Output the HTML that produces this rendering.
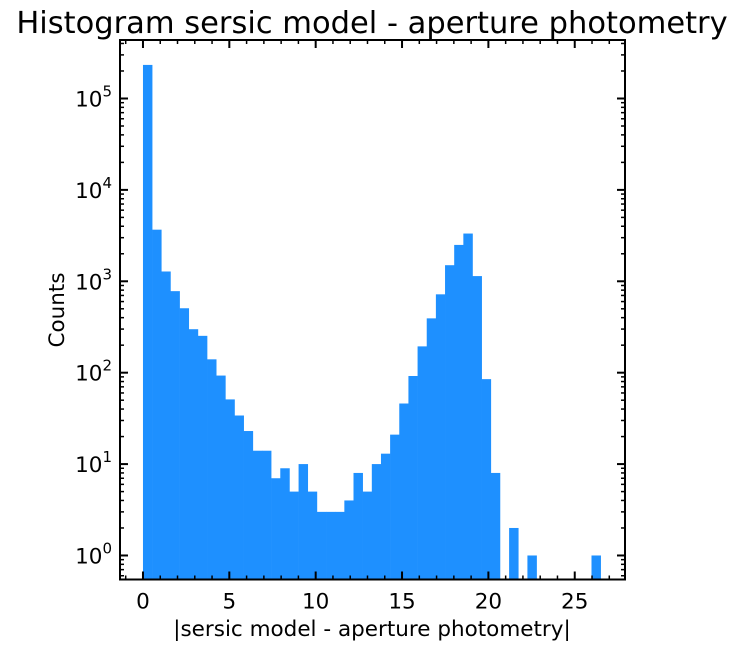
<!DOCTYPE html>
<html><head><meta charset="utf-8"><style>
body{margin:0;background:#fff;}
svg text{font-family:"DejaVu Sans","Liberation Sans",sans-serif;fill:#000;}
</style></head><body>
<svg id="chart" width="743" height="645" xmlns="http://www.w3.org/2000/svg">
<text x="372" y="33" font-size="30.5" text-anchor="middle">Histogram sersic model - aperture photometry</text>
<text x="372" y="636" font-size="21.5" text-anchor="middle">|sersic model - aperture photometry|</text>
<text transform="translate(64,310) rotate(-90)" font-size="21.5" text-anchor="middle">Counts</text>
<g id="bars"></g>
<g id="ticks"></g>
<rect x="120" y="40" width="505" height="539.5" fill="none" stroke="#000" stroke-width="2"/>
</svg>
<script>
const binWidth = 0.53;
const counts = [233000,3670,1280,780,507,299,253,140,93,51,34,23,14,14,7,9,5,10,5,3,3,3,4,8,5,10,13,21,46,92,194,393,720,1500,2500,3330,1140,85,8,0,2,0,1,0,0,0,0,0,0,1];
const xTicks = [0,5,10,15,20,25];
const yTickExps = [0,1,2,3,4,5];
const L=120,R=625,T=40,B=579.5;
const xmin=-1.33,xmax=27.91;
const ymin=Math.log10(0.546),ymax=5.64;
const X=v=>L+(v-xmin)/(xmax-xmin)*(R-L);
const Y=v=>B-(Math.log10(v)-ymin)/(ymax-ymin)*(B-T);
const NS='http://www.w3.org/2000/svg';
const bars=document.getElementById('bars');
counts.forEach((c,i)=>{
  if(c<=0)return;
  const r=document.createElementNS(NS,'rect');
  const x0=X(i*binWidth),x1=X((i+1)*binWidth),y=Y(c);
  r.setAttribute('x',x0);r.setAttribute('width',x1-x0+0.3);
  r.setAttribute('y',y);r.setAttribute('height',B-y);
  r.setAttribute('fill','#1e90ff');
  
  
  bars.appendChild(r);
});
const tk=document.getElementById('ticks');
function line(x1,y1,x2,y2,w){const l=document.createElementNS(NS,'line');l.setAttribute('x1',x1);l.setAttribute('y1',y1);l.setAttribute('x2',x2);l.setAttribute('y2',y2);l.setAttribute('stroke','#000');l.setAttribute('stroke-width',w);tk.appendChild(l);}
for(let v=-1;v<=27;v++){
  const x=X(v);const major=v%5===0;const len=major?8:4;
  line(x,B,x,B-len,major?2:1.5);line(x,T,x,T+len,major?2:1.5);
}
xTicks.forEach(v=>{
  const t=document.createElementNS(NS,'text');
  t.setAttribute('x',X(v));t.setAttribute('y',B+29);t.setAttribute('font-size','21.5');t.setAttribute('text-anchor','middle');
  t.textContent=v;
  
  
  tk.appendChild(t);
});
for(let e=-1;e<=5;e++){
  for(let m=1;m<10;m++){
    const v=m*Math.pow(10,e);const lv=Math.log10(v);
    if(lv<ymin||lv>ymax)continue;
    const y=Y(v);const major=m===1;const len=major?8:4;
    line(L,y,L+len,y,major?2:1.5);line(R,y,R-len,y,major?2:1.5);
  }
}
yTickExps.forEach(e=>{
  const t=document.createElementNS(NS,'text');
  const y=Y(Math.pow(10,e));
  t.setAttribute('x',L-8);t.setAttribute('y',y+8);t.setAttribute('font-size','21.5');t.setAttribute('text-anchor','end');
  t.innerHTML='10<tspan dy="-10" font-size="15">'+e+'</tspan>';
  
  
  tk.appendChild(t);
});
</script>
</body></html>
